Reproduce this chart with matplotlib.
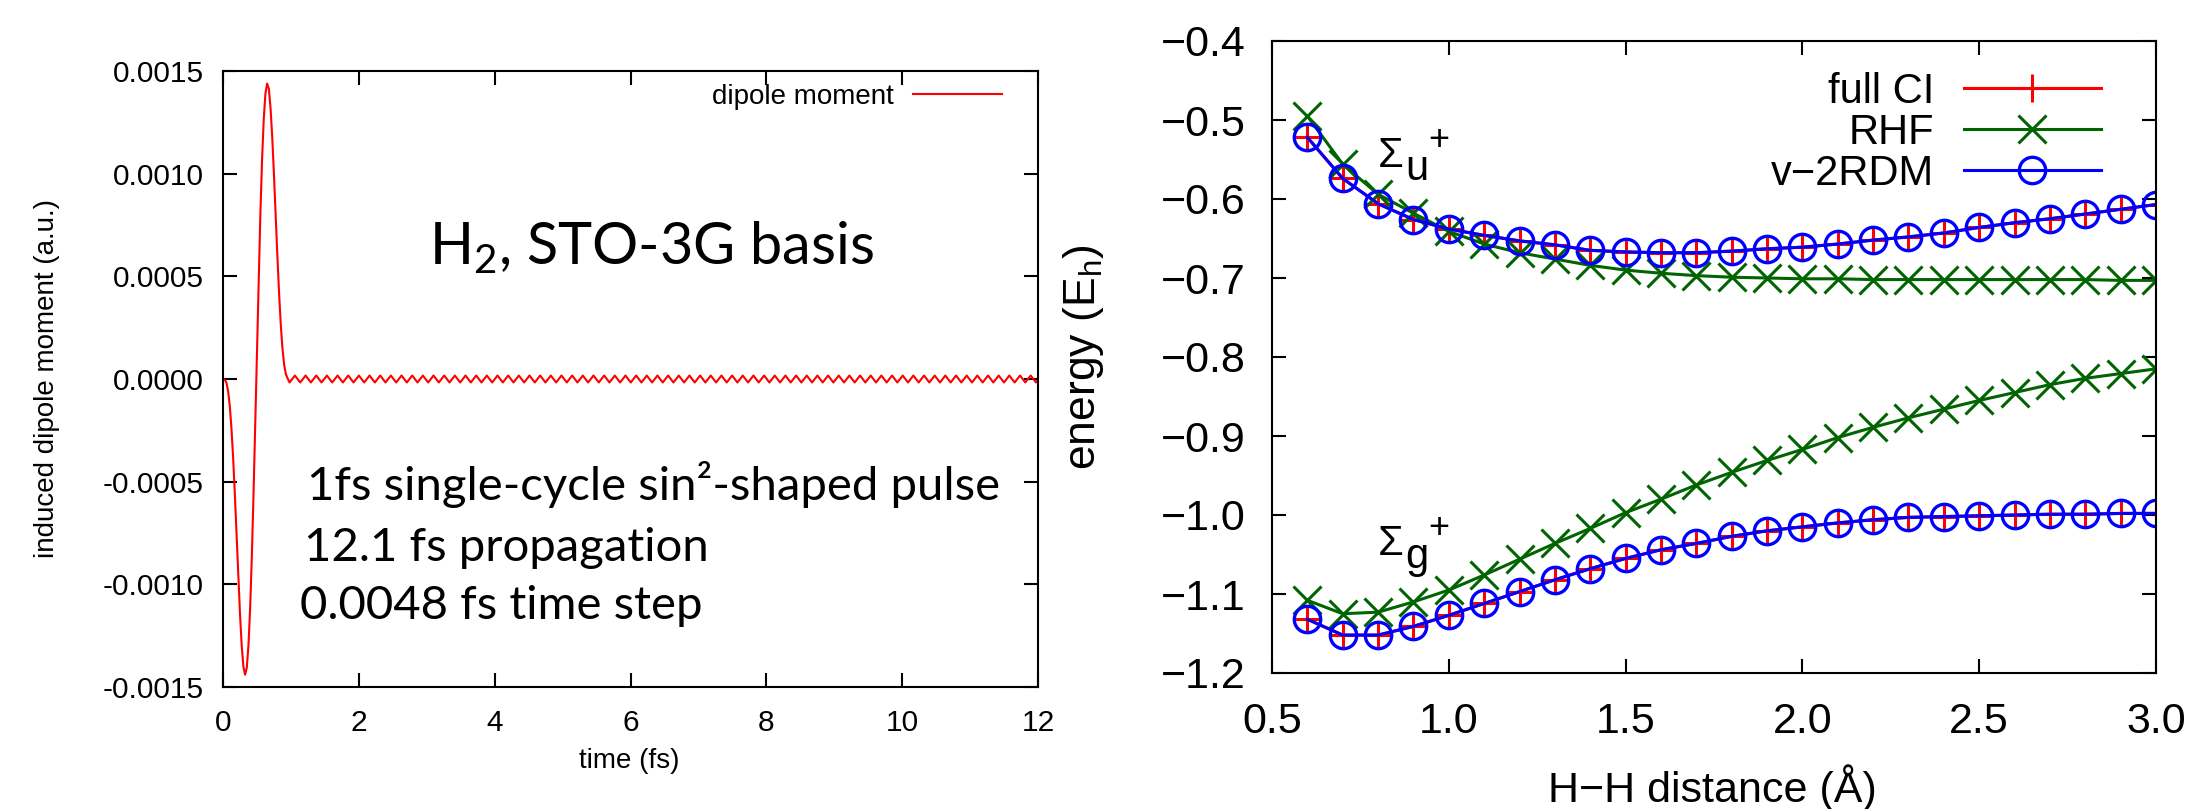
import numpy as np
import matplotlib
matplotlib.use("Agg")
import matplotlib.pyplot as plt
from matplotlib.ticker import FuncFormatter

# -------- data: left panel (induced dipole, H2 STO-3G) --------
pulse_t = [0.000, 0.025, 0.050, 0.075, 0.100, 0.125, 0.150, 0.175, 0.200, 0.225,
           0.250, 0.275, 0.300, 0.325, 0.350, 0.375, 0.400, 0.425, 0.450, 0.475,
           0.500, 0.525, 0.550, 0.575, 0.600, 0.625, 0.650, 0.675, 0.700, 0.725,
           0.750, 0.775, 0.800, 0.825, 0.850, 0.875, 0.900, 0.925, 0.950]
pulse_mu = [0.0, -0.0000023, -0.0000178, -0.0000581, -0.0001317, -0.0002424, -0.000389,
            -0.000565, -0.000760, -0.000959, -0.001143, -0.001296, -0.001400, -0.001440,
            -0.001407, -0.001297, -0.001112, -0.000859, -0.000553, -0.000213, 0.000142,
            0.000487, 0.000801, 0.001066, 0.001266, 0.001391, 0.001439, 0.001413, 0.001320,
            0.001177, 0.000998, 0.000800, 0.000604, 0.000422, 0.000269, 0.000151, 0.000070,
            0.000024, 0.0000039]

# small ringing after the pulse: turning points (time in fs)
tail_t = [0.980, 1.059, 1.137, 1.216, 1.294, 1.373, 1.451, 1.530, 1.608, 1.687,
          1.765, 1.844, 1.922, 2.001, 2.079, 2.158, 2.236, 2.315, 2.393, 2.472,
          2.550, 2.629, 2.707, 2.786, 2.864, 2.943, 3.021, 3.100, 3.178, 3.257,
          3.335, 3.414, 3.492, 3.571, 3.649, 3.728, 3.806, 3.885, 3.963, 4.042,
          4.120, 4.199, 4.277, 4.356, 4.434, 4.513, 4.591, 4.670, 4.748, 4.827,
          4.905, 4.984, 5.062, 5.141, 5.219, 5.298, 5.376, 5.455, 5.533, 5.612,
          5.690, 5.769, 5.847, 5.926, 6.004, 6.083, 6.161, 6.240, 6.318, 6.397,
          6.475, 6.554, 6.632, 6.711, 6.789, 6.868, 6.946, 7.025, 7.103, 7.182,
          7.260, 7.339, 7.417, 7.496, 7.574, 7.653, 7.731, 7.810, 7.888, 7.967,
          8.045, 8.124, 8.202, 8.281, 8.359, 8.438, 8.516, 8.595, 8.673, 8.752,
          8.830, 8.909, 8.987, 9.066, 9.144, 9.223, 9.301, 9.380, 9.458, 9.537,
          9.615, 9.694, 9.772, 9.851, 9.929, 10.008, 10.086, 10.165, 10.243, 10.322,
          10.400, 10.479, 10.557, 10.636, 10.714, 10.793, 10.871, 10.950, 11.028, 11.107,
          11.185, 11.264, 11.342, 11.421, 11.499, 11.578, 11.656, 11.735, 11.813, 11.892,
          11.970, 12.049]
tail_mu = [-1.7e-5, 1.7e-5] * 71

# -------- data: right panel (H2 potential curves) --------
r_hh = [0.6, 0.7, 0.8, 0.9, 1.0, 1.1, 1.2, 1.3, 1.4, 1.5, 1.6, 1.7, 1.8,
        1.9, 2.0, 2.1, 2.2, 2.3, 2.4, 2.5, 2.6, 2.7, 2.8, 2.9, 3.0]
fci_u = [-0.522, -0.574, -0.606, -0.626, -0.638, -0.646, -0.653, -0.658, -0.665,
         -0.667, -0.668, -0.668, -0.666, -0.663, -0.661, -0.657, -0.652, -0.648,
         -0.643, -0.636, -0.630, -0.625, -0.619, -0.613, -0.607]
fci_g = [-1.132, -1.152, -1.152, -1.141, -1.127, -1.112, -1.097, -1.082, -1.068,
         -1.055, -1.044, -1.036, -1.027, -1.020, -1.015, -1.010, -1.006, -1.003,
         -1.002, -1.001, -1.000, -0.999, -0.999, -0.998, -0.998]
rhf_u = [-0.495, -0.556, -0.594, -0.618, -0.641, -0.657, -0.668, -0.676, -0.684,
         -0.690, -0.694, -0.697, -0.699, -0.700, -0.701, -0.701, -0.702, -0.702,
         -0.702, -0.702, -0.702, -0.702, -0.702, -0.703, -0.703]
rhf_g = [-1.108, -1.125, -1.123, -1.110, -1.095, -1.076, -1.056, -1.036, -1.017,
         -0.997, -0.980, -0.962, -0.946, -0.931, -0.917, -0.902, -0.889, -0.877,
         -0.866, -0.855, -0.845, -0.835, -0.827, -0.821, -0.815]
v2rdm_u = list(fci_u)
v2rdm_g = list(fci_g)

# -------- figure --------
W, H = 2190, 809
plt.rcParams['font.family'] = ['Liberation Sans', 'DejaVu Sans']
fig = plt.figure(figsize=(W / 100, H / 100), dpi=100)


def fx(px):
    return px / W


def fy(py):
    return 1 - py / H


# left panel
ax1 = fig.add_axes([fx(223), fy(687), (1038 - 223) / W, (687 - 71) / H])
ax1.plot(pulse_t + tail_t, pulse_mu + tail_mu, color='red', lw=1.5, label='dipole moment')
ax1.set_xlim(0, 12)
ax1.set_ylim(-0.0015, 0.0015)
ax1.set_xticks([0, 2, 4, 6, 8, 10, 12])
ax1.set_yticks([-0.0015, -0.001, -0.0005, 0.0, 0.0005, 0.001, 0.0015])
ax1.yaxis.set_major_formatter(FuncFormatter(lambda v, p: f"{v:.4f}".replace("-0.0000", "0.0000")))
ax1.tick_params(direction='in', top=True, right=True, length=10, width=1.5,
                labelsize=21.5, pad=14)
ax1.tick_params(axis='x', pad=16)
for s in ax1.spines.values():
    s.set_linewidth(1.5)
ax1.legend(loc='upper right', bbox_to_anchor=(fx(1002), fy(84)),
           bbox_transform=fig.transFigure, frameon=False, markerfirst=False,
           handlelength=3.2, handletextpad=0.7, borderpad=0, borderaxespad=0,
           fontsize=20)
fig.text(fx(47), fy(379), 'induced dipole moment (a.u.)', rotation=90,
         ha='center', va='center', fontsize=20)
fig.text(fx(629), fy(761), 'time (fs)', ha='center', va='center', fontsize=20)

note = dict(family=['Lato', 'DejaVu Sans'], ha='left', va='baseline')
fig.text(fx(429), fy(264), r'H$_\mathregular{2}$, STO-3G basis', fontsize=41.5, **note)
fig.text(fx(307), fy(500), '1fs single-cycle sin²-shaped pulse', fontsize=34, **note)
fig.text(fx(304), fy(561), '12.1 fs propagation', fontsize=34, **note)
fig.text(fx(300), fy(619), '0.0048 fs time step', fontsize=34, **note)

# right panel
ax2 = fig.add_axes([fx(1272), fy(673), (2156 - 1272) / W, (673 - 41) / H])
red, green, blue = '#ff0000', '#006400', '#0000ff'
ax2.plot(r_hh, fci_u, color=red, lw=2.2, marker='+', ms=20, mew=2.2, label='full CI')
ax2.plot(r_hh, fci_g, color=red, lw=2.2, marker='+', ms=20, mew=2.2)
ax2.plot(r_hh, rhf_u, color=green, lw=2.2, marker='x', ms=20, mew=2.2, label='RHF')
ax2.plot(r_hh, rhf_g, color=green, lw=2.2, marker='x', ms=20, mew=2.2)
ax2.plot(r_hh, v2rdm_u, color=blue, lw=2.2, marker='o', mfc='none', ms=19, mew=2.4,
         label='v\u22122RDM')
ax2.plot(r_hh, v2rdm_g, color=blue, lw=2.2, marker='o', mfc='none', ms=19, mew=2.4)
ax2.set_xlim(0.5, 3.0)
ax2.set_ylim(-1.2, -0.4)
ax2.set_xticks([0.5, 1.0, 1.5, 2.0, 2.5, 3.0])
ax2.set_yticks([-1.2, -1.1, -1.0, -0.9, -0.8, -0.7, -0.6, -0.5, -0.4])
ax2.xaxis.set_major_formatter(FuncFormatter(lambda v, p: f"{v:.1f}"))
ax2.yaxis.set_major_formatter(FuncFormatter(lambda v, p: f"{v:.1f}".replace("-", "\u2212")))
ax2.tick_params(direction='in', top=True, right=True, length=10, width=1.5,
                labelsize=31, pad=19)
ax2.tick_params(axis='x', pad=21)
for s in ax2.spines.values():
    s.set_linewidth(1.5)
ax2.legend(loc='upper right', bbox_to_anchor=(fx(2101), fy(72)),
           bbox_transform=fig.transFigure, frameon=False, markerfirst=False,
           handlelength=3.3, handletextpad=0.7, borderpad=0, borderaxespad=0,
           labelspacing=0.02, numpoints=1, fontsize=30)
fig.text(fx(1083), fy(357), 'energy (E$_\\mathregular{h}$)', rotation=90,
         ha='center', va='center', fontsize=32)
fig.text(fx(1712), fy(788), 'H\u2212H distance (\u00c5)', ha='center', va='center',
         fontsize=31)

# state labels
for base_y, sub in [(167, 'u'), (555, 'g')]:
    fig.text(fx(1378), fy(base_y), '\u03a3', fontsize=30, ha='left', va='baseline')
    fig.text(fx(1405), fy(base_y + 13), sub, fontsize=30, ha='left', va='baseline')
    fig.text(fx(1428), fy(base_y - 17), '+', fontsize=26, ha='left', va='baseline')

fig.savefig('out.png', dpi=100)
